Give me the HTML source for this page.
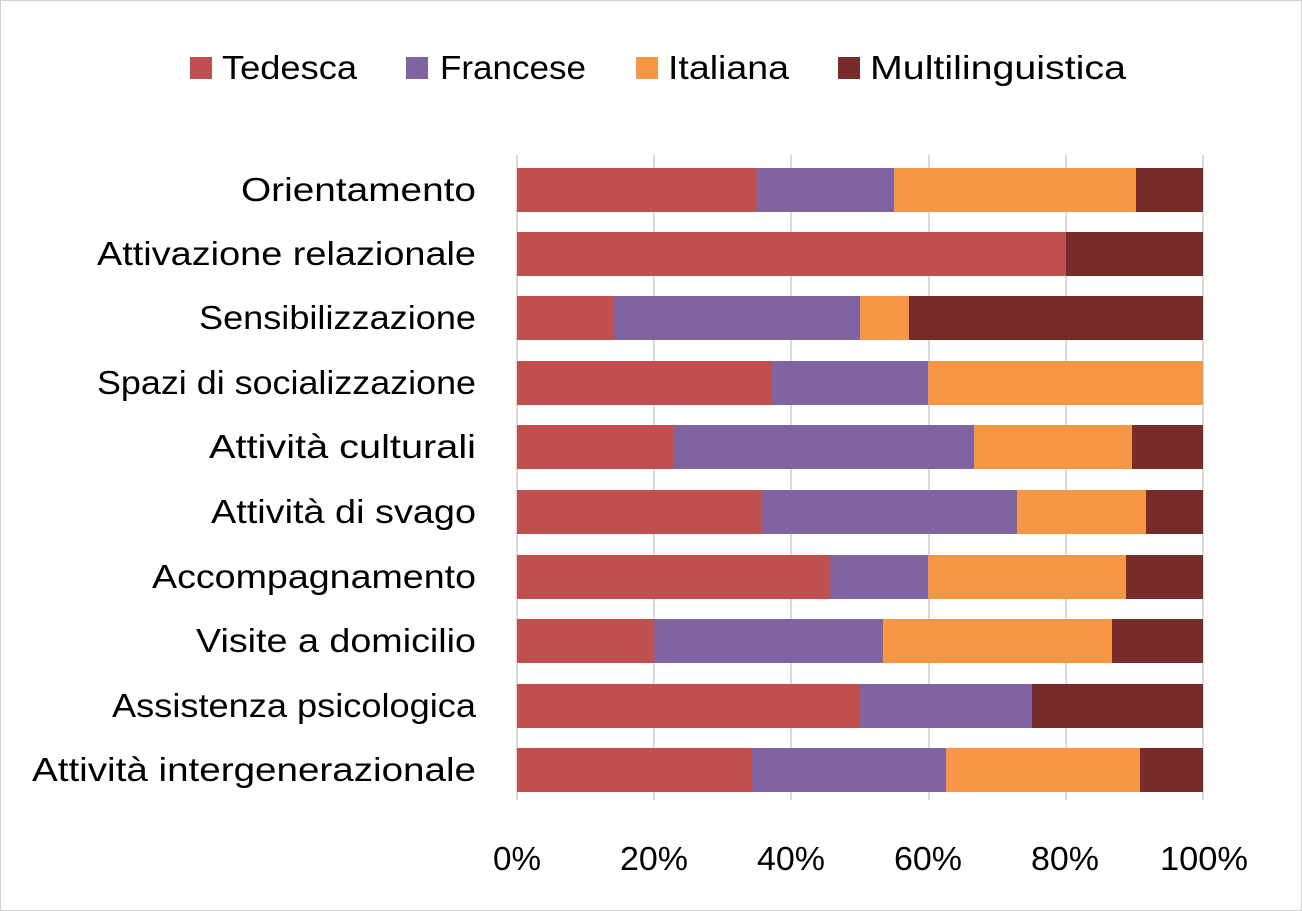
<!DOCTYPE html>
<html><head><meta charset="utf-8"><style>
html,body{margin:0;padding:0;background:#fff}
svg{display:block}
text{font-family:"Liberation Sans",sans-serif;fill:#000}
</style></head><body>
<svg width="1302" height="911" viewBox="0 0 1302 911" xmlns="http://www.w3.org/2000/svg">
<rect x="0.5" y="0.5" width="1301" height="910" fill="#fff" stroke="#d0d0d0"/>
<g font-size="33" lengthAdjust="spacingAndGlyphs">
<rect x="190" y="57" width="22" height="22" fill="#C0504D"/><text x="222" y="79" textLength="135" lengthAdjust="spacingAndGlyphs">Tedesca</text>
<rect x="406" y="57" width="22" height="22" fill="#8064A2"/><text x="440" y="79" textLength="146" lengthAdjust="spacingAndGlyphs">Francese</text>
<rect x="636" y="57" width="22" height="22" fill="#F79646"/><text x="668" y="79" textLength="121" lengthAdjust="spacingAndGlyphs">Italiana</text>
<rect x="838" y="57" width="22" height="22" fill="#772C2A"/><text x="870" y="79" textLength="256" lengthAdjust="spacingAndGlyphs">Multilinguistica</text>
</g>
<g stroke="#d9d9d9" stroke-width="2">
<line x1="517" y1="155" x2="517" y2="800"/><line x1="654" y1="155" x2="654" y2="800"/>
<line x1="791" y1="155" x2="791" y2="800"/><line x1="929" y1="155" x2="929" y2="800"/>
<line x1="1066" y1="155" x2="1066" y2="800"/><line x1="1203" y1="155" x2="1203" y2="800"/>
</g>
<g>
<rect x="517" y="168" width="240" height="44" fill="#C0504D"/><rect x="757" y="168" width="137" height="44" fill="#8064A2"/><rect x="894" y="168" width="242" height="44" fill="#F79646"/><rect x="1136" y="168" width="67" height="44" fill="#772C2A"/>
<rect x="517" y="232" width="549" height="44" fill="#C0504D"/><rect x="1066" y="232" width="137" height="44" fill="#772C2A"/>
<rect x="517" y="296" width="97" height="44" fill="#C0504D"/><rect x="614" y="296" width="246" height="44" fill="#8064A2"/><rect x="860" y="296" width="49" height="44" fill="#F79646"/><rect x="909" y="296" width="294" height="44" fill="#772C2A"/>
<rect x="517" y="361" width="255" height="44" fill="#C0504D"/><rect x="772" y="361" width="156" height="44" fill="#8064A2"/><rect x="928" y="361" width="275" height="44" fill="#F79646"/>
<rect x="517" y="425" width="157" height="44" fill="#C0504D"/><rect x="674" y="425" width="300" height="44" fill="#8064A2"/><rect x="974" y="425" width="158" height="44" fill="#F79646"/><rect x="1132" y="425" width="71" height="44" fill="#772C2A"/>
<rect x="517" y="490" width="245" height="44" fill="#C0504D"/><rect x="762" y="490" width="255" height="44" fill="#8064A2"/><rect x="1017" y="490" width="129" height="44" fill="#F79646"/><rect x="1146" y="490" width="57" height="44" fill="#772C2A"/>
<rect x="517" y="555" width="313" height="44" fill="#C0504D"/><rect x="830" y="555" width="98" height="44" fill="#8064A2"/><rect x="928" y="555" width="198" height="44" fill="#F79646"/><rect x="1126" y="555" width="77" height="44" fill="#772C2A"/>
<rect x="517" y="619" width="137" height="44" fill="#C0504D"/><rect x="654" y="619" width="229" height="44" fill="#8064A2"/><rect x="883" y="619" width="229" height="44" fill="#F79646"/><rect x="1112" y="619" width="91" height="44" fill="#772C2A"/>
<rect x="517" y="684" width="343" height="44" fill="#C0504D"/><rect x="860" y="684" width="172" height="44" fill="#8064A2"/><rect x="1032" y="684" width="171" height="44" fill="#772C2A"/>
<rect x="517" y="748" width="235" height="44" fill="#C0504D"/><rect x="752" y="748" width="194" height="44" fill="#8064A2"/><rect x="946" y="748" width="194" height="44" fill="#F79646"/><rect x="1140" y="748" width="63" height="44" fill="#772C2A"/>
</g>
<g font-size="33">
<text x="241" y="201" textLength="235" lengthAdjust="spacingAndGlyphs">Orientamento</text>
<text x="97" y="265" textLength="379" lengthAdjust="spacingAndGlyphs">Attivazione relazionale</text>
<text x="199" y="329" textLength="277" lengthAdjust="spacingAndGlyphs">Sensibilizzazione</text>
<text x="97" y="394" textLength="379" lengthAdjust="spacingAndGlyphs">Spazi di socializzazione</text>
<text x="209" y="458" textLength="267" lengthAdjust="spacingAndGlyphs">Attività culturali</text>
<text x="211" y="523" textLength="265" lengthAdjust="spacingAndGlyphs">Attività di svago</text>
<text x="152" y="588" textLength="324" lengthAdjust="spacingAndGlyphs">Accompagnamento</text>
<text x="196" y="652" textLength="280" lengthAdjust="spacingAndGlyphs">Visite a domicilio</text>
<text x="112" y="717" textLength="364" lengthAdjust="spacingAndGlyphs">Assistenza psicologica</text>
<text x="32" y="781" textLength="444" lengthAdjust="spacingAndGlyphs">Attività intergenerazionale</text>
</g>
<g font-size="33">
<text x="493" y="870" textLength="48" lengthAdjust="spacingAndGlyphs">0%</text>
<text x="620" y="870" textLength="68" lengthAdjust="spacingAndGlyphs">20%</text>
<text x="757" y="870" textLength="68" lengthAdjust="spacingAndGlyphs">40%</text>
<text x="894" y="870" textLength="68" lengthAdjust="spacingAndGlyphs">60%</text>
<text x="1031" y="870" textLength="68" lengthAdjust="spacingAndGlyphs">80%</text>
<text x="1160" y="870" textLength="88" lengthAdjust="spacingAndGlyphs">100%</text>
</g>
</svg>
</body></html>
